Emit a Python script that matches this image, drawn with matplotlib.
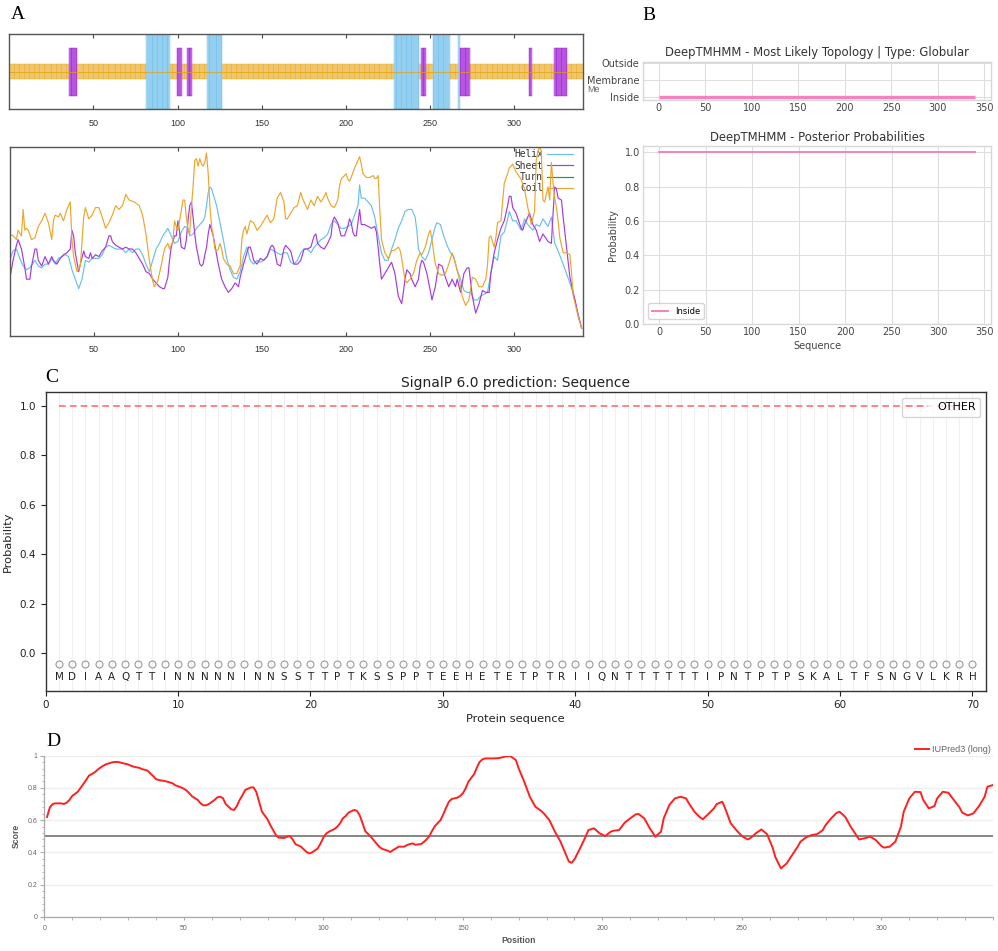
import numpy as np
import matplotlib
matplotlib.use('Agg')
import matplotlib.pyplot as plt
from matplotlib.colors import to_rgba
from matplotlib.ticker import MultipleLocator, FixedLocator, FixedFormatter

W, H = 998, 951

# ---------------- data ----------------
# A (SOPMA): secondary structure runs on a 340 aa protein
seq_len = 340
helix_runs = [(82, 95), (118, 126), (229, 243), (252, 261), (267, 267)]
sheet_runs = [(36, 40), (100, 102), (106, 108), (245, 247), (268, 273), (309, 310), (324, 331)]

# A (SOPMA): per-residue score profiles (position, score)
helix_pts = [(0, .40), (2, .45), (4, .46), (6, .41), (8, .37), (10, .35), (12, .36), (15, .40), (17, .37),
             (19, .36), (21, .38), (23, .38), (25, .41), (27, .38), (29, .41), (31, .42), (33, .43), (35, .42),
             (37, .35), (39, .30), (41, .25), (43, .30), (45, .40), (47, .39), (49, .41), (51, .41), (53, .41),
             (55, .43), (57, .47), (59, .48), (61, .47), (63, .46), (65, .46), (67, .46), (69, .44), (71, .46),
             (73, .44), (75, .46), (77, .46), (79, .43), (81, .38), (83, .34), (85, .40), (87, .46), (89, .49),
             (91, .53), (94, .57), (96, .53), (98, .49), (100, .50), (102, .55), (104, .58), (106, .57),
             (107, .53), (109, .54), (111, .57), (113, .59), (115, .61), (116, .63), (117, .69), (118, .76),
             (119, .79), (120, .78), (121, .75), (123, .69), (125, .60), (127, .51), (129, .41), (131, .35),
             (133, .31), (135, .30), (137, .34), (139, .42), (141, .47), (143, .40), (145, .38), (147, .40),
             (149, .39), (151, .40), (153, .42), (155, .46), (157, .45), (159, .44), (161, .43), (163, .44),
             (165, .44), (167, .39), (169, .38), (171, .40), (173, .44), (175, .46), (177, .46), (179, .44),
             (181, .47), (183, .49), (185, .51), (187, .52), (189, .54), (191, .59), (193, .61), (195, .59),
             (197, .57), (199, .57), (201, .58), (203, .59), (205, .64), (207, .69), (208, .80), (209, .73),
             (211, .73), (213, .71), (215, .69), (217, .63), (219, .53), (221, .44), (223, .40), (225, .40),
             (227, .46), (229, .51), (231, .57), (233, .61), (235, .66), (237, .67), (239, .67), (241, .63),
             (242, .56), (243, .46), (245, .42), (247, .40), (249, .44), (251, .51), (253, .58), (254, .60),
             (256, .59), (258, .53), (260, .48), (262, .44), (264, .42), (266, .35), (268, .30), (270, .24),
             (272, .23), (274, .23), (276, .19), (278, .19), (280, .21), (282, .22), (284, .23), (286, .33),
             (288, .42), (290, .40), (292, .53), (294, .55), (296, .62), (297, .66), (299, .61), (301, .61),
             (304, .56), (306, .62), (308, .59), (311, .56), (313, .59), (315, .58), (317, .62), (320, .58),
             (322, .63), (323, .56), (324, .49), (326, .45), (329, .38), (331, .33), (333, .28), (336, .19),
             (338, .10), (340, .04)]
sheet_pts = [(0, .30), (2, .40), (4, .48), (5, .51), (7, .46), (9, .36), (10, .30), (12, .30), (13, .37),
             (15, .46), (16, .46), (17, .40), (19, .37), (21, .42), (23, .38), (25, .42), (26, .40), (28, .38),
             (30, .41), (32, .43), (34, .44), (36, .46), (37, .56), (38, .53), (39, .44), (41, .34), (42, .38),
             (44, .45), (45, .42), (47, .41), (48, .44), (49, .41), (51, .43), (53, .42), (55, .45), (57, .47),
             (59, .53), (60, .53), (61, .50), (63, .48), (65, .47), (67, .46), (69, .47), (71, .46), (73, .46),
             (75, .44), (77, .41), (79, .38), (81, .34), (83, .33), (85, .30), (87, .28), (89, .26), (91, .25),
             (92, .25), (94, .31), (95, .40), (96, .47), (98, .53), (99, .53), (100, .61), (101, .55),
             (102, .47), (104, .46), (105, .51), (106, .61), (107, .69), (108, .71), (109, .63), (110, .54),
             (111, .47), (113, .38), (114, .37), (115, .38), (116, .43), (117, .47), (118, .54), (119, .59),
             (120, .56), (121, .53), (122, .48), (124, .38), (126, .30), (128, .26), (130, .23), (132, .25),
             (134, .28), (136, .26), (137, .31), (139, .38), (141, .44), (142, .47), (143, .47), (144, .44),
             (145, .40), (147, .38), (149, .41), (151, .40), (153, .42), (155, .47), (156, .48), (157, .47),
             (159, .38), (161, .37), (163, .46), (164, .48), (165, .47), (167, .45), (169, .38), (171, .38),
             (173, .40), (175, .46), (177, .46), (179, .47), (181, .53), (182, .54), (183, .49), (185, .47),
             (187, .46), (189, .49), (191, .53), (192, .61), (193, .63), (195, .60), (197, .53), (199, .53),
             (201, .58), (202, .62), (203, .60), (204, .55), (205, .53), (206, .53), (207, .60), (208, .67),
             (209, .59), (211, .59), (213, .58), (215, .57), (217, .58), (218, .55), (219, .47), (220, .38),
             (221, .30), (223, .33), (225, .36), (227, .39), (229, .33), (231, .21), (233, .17), (234, .23),
             (235, .30), (236, .35), (237, .34), (238, .33), (239, .30), (241, .26), (243, .30), (244, .37),
             (245, .40), (246, .39), (248, .33), (250, .24), (251, .19), (253, .26), (255, .38), (257, .37),
             (259, .31), (261, .26), (263, .30), (265, .26), (266, .30), (268, .23), (270, .33), (272, .36),
             (273, .36), (275, .21), (277, .12), (279, .17), (281, .24), (283, .23), (285, .23), (286, .33),
             (288, .44), (290, .51), (292, .57), (294, .61), (296, .69), (297, .74), (298, .74), (299, .68),
             (301, .65), (304, .57), (305, .56), (306, .59), (308, .63), (309, .65), (311, .59), (313, .56),
             (315, .50), (317, .54), (320, .50), (322, .49), (323, .65), (324, .79), (325, .78), (326, .73),
             (328, .72), (329, .63), (331, .47), (333, .31), (336, .19), (338, .11), (340, .04)]
coil_pts = [(0, .54), (2, .53), (4, .51), (5, .56), (7, .53), (8, .67), (9, .56), (10, .57), (11, .56),
            (13, .51), (15, .52), (17, .58), (19, .61), (21, .65), (23, .60), (25, .51), (26, .61), (27, .64),
            (29, .63), (30, .65), (32, .61), (34, .67), (36, .71), (37, .51), (38, .42), (40, .34), (42, .37),
            (44, .63), (45, .68), (47, .62), (49, .64), (51, .68), (53, .68), (55, .63), (57, .57), (59, .60),
            (61, .64), (63, .69), (65, .67), (67, .69), (69, .75), (71, .72), (74, .71), (77, .69), (79, .64),
            (81, .54), (83, .40), (85, .29), (86, .26), (88, .29), (90, .37), (92, .46), (94, .49), (95, .46),
            (97, .50), (98, .61), (99, .58), (100, .56), (101, .61), (103, .72), (104, .72), (105, .63),
            (106, .56), (107, .54), (108, .68), (109, .79), (110, .93), (111, .94), (112, .90), (113, .94),
            (114, .91), (115, .90), (116, .92), (117, .97), (118, .86), (119, .69), (120, .58), (121, .53),
            (122, .46), (123, .45), (124, .46), (125, .49), (126, .46), (127, .41), (129, .38), (131, .37),
            (133, .33), (135, .33), (137, .37), (138, .51), (139, .56), (140, .58), (141, .54), (143, .61),
            (145, .60), (147, .56), (149, .58), (151, .61), (153, .64), (155, .60), (157, .62), (159, .73),
            (161, .76), (163, .71), (164, .62), (165, .62), (167, .65), (169, .68), (171, .69), (173, .76),
            (174, .73), (175, .71), (177, .67), (179, .72), (181, .69), (183, .74), (185, .71), (187, .74),
            (188, .76), (189, .73), (191, .69), (193, .68), (195, .72), (196, .79), (197, .83), (198, .84),
            (200, .86), (201, .83), (202, .82), (203, .84), (205, .89), (206, .91), (208, .95), (209, .91),
            (210, .86), (212, .84), (214, .84), (216, .85), (217, .835), (218, .835), (219, .85), (220, .67),
            (221, .51), (223, .44), (225, .41), (227, .45), (229, .455), (231, .47), (232, .455), (233, .41),
            (234, .35), (235, .30), (236, .28), (238, .30), (240, .33), (242, .40), (244, .44), (245, .43),
            (247, .47), (249, .54), (250, .56), (251, .51), (253, .38), (255, .33), (257, .32), (259, .33),
            (261, .38), (263, .44), (265, .38), (267, .31), (269, .21), (271, .16), (273, .19), (275, .31),
            (277, .30), (279, .26), (281, .26), (283, .30), (284, .37), (285, .52), (286, .53), (288, .47),
            (289, .52), (290, .60), (292, .61), (294, .81), (296, .86), (297, .89), (299, .91), (301, .87),
            (304, .83), (306, .78), (308, .68), (310, .59), (312, .66), (313, .93), (314, .98), (315, 1.0),
            (316, .98), (317, .72), (318, .71), (320, .79), (321, .72), (322, .92), (323, .81), (324, .73),
            (325, .68), (326, .61), (327, .52), (329, .44), (331, .44), (333, .43), (334, .33), (335, .21),
            (338, .10), (340, .04)]

# B (DeepTMHMM): topology and posterior probability
topo_pos = [0, 340]
topo_state = [0, 0]          # 0 = Inside
inside_pos = [0, 340]
inside_prob = [1.0, 1.0]

# C (SignalP 6.0): first 70 residues
sequence = "MDIAAQTTINNNNNINNSSTTPTKSSPPTEEHETETPTRIIQNTTTTTTIPNTPTPSKALTFSNGVLKRH"
other_prob = [1.0, 1.0, 1.0, 1.0, 1.0, 1.0, 1.0, 1.0, 1.0, 1.0, 1.0, 1.0, 1.0, 1.0,
              1.0, 1.0, 1.0, 1.0, 1.0, 1.0, 1.0, 1.0, 1.0, 1.0, 1.0, 1.0, 1.0, 1.0,
              1.0, 1.0, 1.0, 1.0, 1.0, 1.0, 1.0, 1.0, 1.0, 1.0, 1.0, 1.0, 1.0, 1.0,
              1.0, 1.0, 1.0, 1.0, 1.0, 1.0, 1.0, 1.0, 1.0, 1.0, 1.0, 1.0, 1.0, 1.0,
              1.0, 1.0, 1.0, 1.0, 1.0, 1.0, 1.0, 1.0, 1.0, 1.0, 1.0, 1.0, 1.0, 1.0]

# D (IUPred3 long): disorder score
iupred_pts = [(1, .62), (2, .68), (3, .70), (4, .704), (6, .704), (7, .70), (8, .708), (9, .725), (10, .75),
              (12, .776), (13, .80), (14, .824), (15, .849), (16, .876), (18, .896), (19, .911), (20, .925),
              (21, .936), (22, .946), (24, .957), (25, .961), (26, .961), (27, .959), (28, .954), (30, .946),
              (31, .938), (32, .932), (33, .928), (34, .925), (35, .917), (37, .907), (38, .89), (39, .874),
              (40, .855), (41, .849), (43, .843), (44, .839), (45, .834), (46, .828), (47, .816), (49, .803),
              (50, .795), (51, .783), (52, .766), (53, .747), (55, .725), (56, .704), (57, .692), (58, .692),
              (59, .70), (61, .725), (62, .741), (63, .745), (64, .737), (65, .70), (67, .667), (68, .663),
              (69, .687), (70, .725), (71, .754), (72, .787), (74, .803), (75, .803), (76, .774), (77, .714),
              (78, .652), (80, .605), (81, .569), (82, .538), (83, .507), (84, .491), (86, .489), (87, .497),
              (88, .501), (89, .48), (90, .451), (92, .435), (93, .418), (94, .402), (95, .393), (96, .40),
              (98, .424), (99, .455), (100, .491), (101, .516), (102, .528), (104, .545), (105, .559),
              (106, .58), (107, .611), (108, .625), (109, .646), (111, .663), (112, .658), (113, .631),
              (114, .584), (115, .532), (117, .497), (118, .476), (119, .455), (120, .435), (121, .422),
              (123, .41), (124, .402), (125, .414), (126, .424), (127, .435), (129, .435), (130, .445),
              (131, .451), (132, .455), (133, .447), (135, .451), (136, .464), (137, .48), (138, .501),
              (139, .534), (140, .563), (142, .60), (143, .636), (144, .677), (145, .714), (146, .731),
              (148, .739), (149, .749), (150, .766), (151, .797), (152, .839), (154, .884), (155, .925),
              (156, .961), (157, .977), (158, .983), (161, .983), (163, .985), (165, .994), (167, .998),
              (169, .973), (170, .921), (172, .839), (174, .745), (176, .683), (178, .658), (179, .642),
              (181, .60), (183, .528), (185, .466), (187, .383), (188, .342), (189, .335), (190, .356),
              (192, .424), (194, .497), (195, .538), (197, .549), (199, .518), (201, .501), (203, .528),
              (204, .534), (206, .538), (208, .584), (210, .611), (212, .636), (213, .638), (215, .611),
              (217, .549), (219, .497), (221, .528), (222, .611), (224, .694), (226, .735), (228, .745),
              (230, .735), (231, .704), (233, .652), (235, .617), (236, .605), (238, .638), (240, .673),
              (241, .70), (243, .714), (244, .673), (246, .58), (248, .538), (250, .501), (252, .48),
              (253, .487), (255, .518), (257, .542), (259, .513), (261, .43), (262, .37), (264, .30),
              (266, .33), (268, .383), (270, .435), (271, .466), (273, .493), (275, .507), (277, .513),
              (279, .538), (280, .569), (282, .611), (284, .646), (285, .652), (287, .621), (289, .559),
              (291, .507), (292, .48), (294, .487), (296, .497), (298, .476), (300, .439), (301, .429),
              (303, .435), (305, .466), (307, .559), (308, .652), (310, .735), (312, .776), (314, .774),
              (315, .725), (317, .673), (319, .687), (320, .735), (322, .776), (324, .77), (326, .725),
              (328, .679), (329, .646), (331, .629), (333, .642), (335, .687), (337, .745), (338, .807),
              (340, .818)]
iupred_cutoff = 0.5

# ---------------- figure ----------------
fig = plt.figure(figsize=(W / 100, H / 100), dpi=100)


def add_ax(l, t, r, b):
    return fig.add_axes([l / W, 1 - b / H, (r - l) / W, (b - t) / H])


c_helix = '#56B4E9'
c_sheet = '#9400D3'
c_turn = '#009E73'
c_coil = '#E69F00'
gp_font = 'Liberation Sans'

# ---- A top: secondary structure track ----
axA1 = add_ax(9.3, 34, 582.5, 109.3)
res = np.arange(1, seq_len + 1)
state = np.array(['c'] * seq_len, dtype=object)
for s, e in helix_runs:
    state[s - 1:e] = 'h'
for s, e in sheet_runs:
    state[s - 1:e] = 'e'
bands = {'c': (0.40, 0.20, c_coil, 0.38), 'h': (0.0, 1.0, c_helix, 0.45), 'e': (0.18, 0.64, c_sheet, 0.5)}
for key, (b, h, col, a) in bands.items():
    m = state == key
    axA1.bar(res[m], h, bottom=b, width=1.0, color=to_rgba(col, a), edgecolor=to_rgba(col, 0.85), linewidth=0.3)
axA1.axhline(0.5, color=c_coil, lw=0.6, alpha=0.8)
axA1.set_xlim(0, 340.5)
axA1.set_ylim(0, 1)

# ---- A bottom: profiles ----
axA2 = add_ax(9.7, 147.3, 582.5, 335.7)
hp, hv = zip(*helix_pts)
sp_, sv = zip(*sheet_pts)
cp, cv = zip(*coil_pts)
axA2.plot(hp, hv, color='#6ABFEE', lw=0.85, label='Helix')
axA2.plot(sp_, sv, color='#A53BE0', lw=0.85, label='Sheet')
axA2.plot([], [], color=c_turn, lw=0.85, label='Turn')
axA2.plot(cp, cv, color='#EBA62E', lw=0.85, label='Coil')
axA2.set_xlim(0, 340.5)
axA2.set_ylim(0, 1)
leg = axA2.legend(loc='upper right', bbox_to_anchor=(0.983, 0.99), borderaxespad=0, borderpad=0,
                  frameon=False, markerfirst=False, handlelength=2.7, handletextpad=0.4, labelspacing=0.15,
                  prop={'family': 'DejaVu Sans Mono', 'size': 6.9})
for t in leg.get_texts():
    t.set_color('#333333')
leg.set_zorder(1)

for ax in (axA1, axA2):
    ax.xaxis.set_major_locator(FixedLocator([50, 100, 150, 200, 250, 300]))
    ax.tick_params(axis='x', direction='in', top=True, length=3, width=0.8, color='#444444',
                   labelsize=6.5, labelcolor='#333333', pad=7)
    ax.tick_params(axis='y', left=False, labelleft=False)
    for lab in ax.get_xticklabels():
        lab.set_family(gp_font)
    for s in ax.spines.values():
        s.set_color('#555555')
        s.set_linewidth(1.0)

fig.text(587 / W, 1 - 90 / H, 'Me', fontsize=6.5, color='#666666', family=gp_font, va='center')

# ---- B: DeepTMHMM ----
pink = '#F781BF'
axB1 = add_ax(642.7, 61.7, 991, 100)
axB2 = add_ax(643.3, 146, 991, 324)
for ax in (axB1, axB2):
    ax.set_axisbelow(True)
    ax.grid(True, color='#dedede', lw=0.8)
    for s in ax.spines.values():
        s.set_color('#d8d8d8')
        s.set_linewidth(1.0)
    ax.tick_params(length=0, labelsize=7, labelcolor='#444444', pad=2.5)
    ax.set_xlim(-17, 357)
    ax.xaxis.set_major_locator(MultipleLocator(50))

axB1.plot(topo_pos, topo_state, color=pink, lw=2.4, solid_capstyle='butt')
axB1.set_ylim(-0.2, 2.06)
axB1.set_yticks([0, 1, 2])
axB1.set_yticklabels(['Inside', 'Membrane', 'Outside'])
axB1.set_title('DeepTMHMM - Most Likely Topology | Type: Globular', fontsize=8.4, color='#333333', pad=4)

axB2.plot(inside_pos, inside_prob, color=pink, lw=1.4, label='Inside')
axB2.set_ylim(0, 1.037)
axB2.set_yticks([0, 0.2, 0.4, 0.6, 0.8, 1.0])
axB2.set_title('DeepTMHMM - Posterior Probabilities', fontsize=8.4, color='#333333', pad=3.5)
axB2.set_xlabel('Sequence', fontsize=7, color='#444444')
axB2.set_ylabel('Probability', fontsize=7, color='#444444')
axB2.xaxis.set_label_coords(0.5, -0.098)
axB2.yaxis.set_label_coords(-0.073, 0.5)
lg = axB2.legend(loc='lower left', fontsize=6, handlelength=2.0, borderaxespad=0.6)
lg.get_frame().set_edgecolor('#cccccc')

# ---- C: SignalP ----
axC = add_ax(45.7, 392.3, 985.7, 690.7)
pos = np.arange(1, len(sequence) + 1)
for p in pos:
    axC.axvline(p, color='#f0f0f0', lw=0.8, zorder=0)
axC.plot(pos, other_prob, ls='--', color='#FF6E6E', lw=1.2, label='OTHER', dashes=(4, 2.5))
axC.plot(pos, np.full(len(pos), -0.045), ls='none', marker='o', ms=5, mfc='none', mec='#9a9a9a', mew=0.8)
for p, aa in zip(pos, sequence):
    axC.text(p, -0.095, aa, ha='center', va='center', fontsize=7.5, color='#222222')
axC.set_xlim(0, 71)
axC.set_ylim(-0.151, 1.054)
axC.set_yticks([0, 0.2, 0.4, 0.6, 0.8, 1.0])
axC.xaxis.set_major_locator(MultipleLocator(10))
axC.tick_params(labelsize=7.5, length=3.5, width=0.8, colors='#222222')
for s in axC.spines.values():
    s.set_color('#333333')
    s.set_linewidth(1.0)
axC.set_title('SignalP 6.0 prediction: Sequence', fontsize=10, color='#222222', pad=4)
axC.set_xlabel('Protein sequence', fontsize=8.2, color='#222222')
axC.set_ylabel('Probability', fontsize=8.2, color='#222222')
axC.xaxis.set_label_coords(0.5, -0.078)
axC.yaxis.set_label_coords(-0.035, 0.5)
axC.legend(loc='upper right', fontsize=8, handlelength=2.0)

# ---- D: IUPred3 ----
axD = add_ax(44.3, 755.7, 993, 916.7)
ip, iv = zip(*iupred_pts)
axD.set_axisbelow(True)
axD.yaxis.grid(True, color='#eeeeee', lw=1.0)
axD.axhline(iupred_cutoff, color='#666666', lw=1.1, zorder=2)
axD.plot(ip, iv, color='#FF2020', lw=1.4, label='IUPred3 (long)', zorder=3)
axD.set_xlim(0, 340)
axD.set_ylim(0, 1)
axD.spines['top'].set_visible(False)
axD.spines['right'].set_visible(False)
for k in ('left', 'bottom'):
    axD.spines[k].set_color('#aaaaaa')
    axD.spines[k].set_linewidth(0.9)
axD.xaxis.set_major_locator(MultipleLocator(50))
axD.xaxis.set_minor_locator(MultipleLocator(10))
axD.yaxis.set_major_locator(FixedLocator([0, 0.2, 0.4, 0.6, 0.8, 1.0]))
axD.yaxis.set_major_formatter(FixedFormatter(['0', '0.2', '0.4', '0.6', '0.8', '1']))
axD.yaxis.set_minor_locator(MultipleLocator(0.04))
axD.tick_params(which='both', colors='#aaaaaa', labelcolor='#666666', labelsize=5)
axD.tick_params(axis='x', which='both', length=2.5, pad=3.5)
axD.tick_params(axis='y', which='major', length=3, pad=2)
axD.tick_params(axis='y', which='minor', length=1.8)
for lab in axD.get_xticklabels() + axD.get_yticklabels():
    lab.set_family(gp_font)
axD.set_xlabel('Position', fontsize=6.2, fontweight='bold', color='#555555', family=gp_font)
axD.set_ylabel('Score', fontsize=6.2, fontweight='bold', color='#555555', family=gp_font)
axD.xaxis.set_label_coords(0.5, -0.122)
axD.yaxis.set_label_coords(-0.025, 0.5)
lgd = axD.legend(loc='lower right', bbox_to_anchor=(1.0, 1.0), borderaxespad=0, borderpad=0.2,
                 frameon=False, handlelength=1.5, handletextpad=0.4,
                 prop={'family': gp_font, 'size': 6.5})
for t in lgd.get_texts():
    t.set_color('#666666')

# ---- panel letters ----
for letter, x, y in [('A', 18, 14.5), ('B', 649, 16), ('C', 52, 377), ('D', 53, 741)]:
    fig.text(x / W, 1 - y / H, letter, fontsize=14, family='Liberation Serif', ha='center', va='center')

fig.savefig('out.png', dpi=100)
